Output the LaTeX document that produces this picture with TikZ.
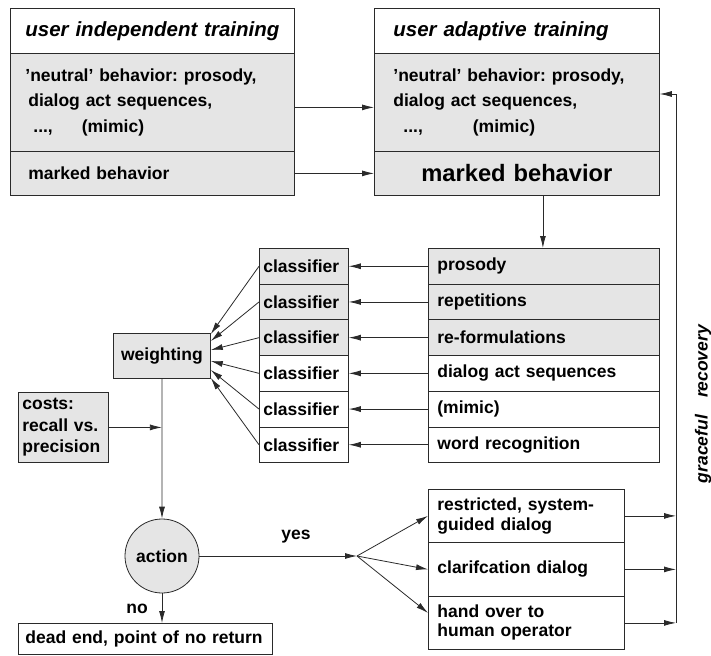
\documentclass[tikz,border=0pt]{standalone}
\usepackage{fontspec}
\setmainfont{Liberation Sans}
\usetikzlibrary{arrows.meta}
\definecolor{shade}{HTML}{E5E5E5}
\definecolor{linec}{HTML}{2A2A2A}
\frenchspacing
\begin{document}
\begin{tikzpicture}[x=1pt,y=-1pt,
  txt/.style={font=\fontsize{17.5}{25.5}\selectfont\bfseries},
  box/.style={draw=linec, line width=0.8pt, anchor=north west, inner ysep=0pt, align=left, txt},
  grey/.style={fill=shade},
  white/.style={fill=white},
  arr/.style={draw=linec, line width=0.8pt, -{Latex[length=12pt,width=6pt]}},
  ln/.style={draw=linec, line width=0.8pt}]
\useasboundingbox (0,0) rectangle (711,655);

% left box
\node[box, white, minimum width=284pt, minimum height=45pt, text width=254pt, inner xsep=15pt, align=center,
  font=\fontsize{20.5}{24}\selectfont\bfseries\itshape] (lt) at (10,8) {user independent training};
\node[box, grey, minimum width=284pt, minimum height=98pt, text width=254pt, inner xsep=15pt] (lneu) at (10,53)
  {'neutral' behavior: prosody,\\ \hspace*{3pt}dialog act sequences,\\ \hspace*{8pt}...,\hspace*{29pt}(mimic)};
\node[box, grey, minimum width=284pt, minimum height=44pt, text width=254pt, inner xsep=15pt] (lm) at (10,151)
  {\hspace*{3pt}marked behavior};

% right box
\node[box, white, minimum width=285pt, minimum height=45pt, text width=247pt, inner xsep=19pt,
  font=\fontsize{20.5}{24}\selectfont\bfseries\itshape] (rt) at (374,8) {user adaptive training};
\node[box, grey, minimum width=285pt, minimum height=98pt, text width=247pt, inner xsep=19pt] (rneu) at (374,53)
  {'neutral' behavior: prosody,\\ dialog act sequences,\\ \hspace*{10pt}...,\hspace*{50pt}(mimic)};
\node[box, grey, minimum width=285pt, minimum height=44pt, text width=247pt, inner xsep=19pt, align=center,
  font=\fontsize{23.7}{28}\selectfont\bfseries] (rm) at (374,151) {marked behavior};

% features
\node[box, grey,  minimum width=231pt, minimum height=35.7pt, text width=213pt, inner xsep=9pt] (f1) at (428,248.0) {prosody};
\node[box, grey,  minimum width=231pt, minimum height=35.7pt, text width=213pt, inner xsep=9pt] (f2) at (428,283.7) {repetitions};
\node[box, grey,  minimum width=231pt, minimum height=35.7pt, text width=213pt, inner xsep=9pt] (f3) at (428,319.4) {re-formulations};
\node[box, white, minimum width=231pt, minimum height=35.7pt, text width=213pt, inner xsep=9pt] (f4) at (428,355.1) {dialog act sequences};
\node[box, white, minimum width=231pt, minimum height=35.7pt, text width=213pt, inner xsep=9pt] (f5) at (428,390.8) {(mimic)};
\node[box, white, minimum width=231pt, minimum height=35.7pt, text width=213pt, inner xsep=9pt] (f6) at (428,426.5) {word recognition};

% classifiers
\node[box, grey,  minimum width=89pt, minimum height=35.7pt, text width=81pt, inner xsep=4pt] (c1) at (259,248.0) {classifier};
\node[box, grey,  minimum width=89pt, minimum height=35.7pt, text width=81pt, inner xsep=4pt] (c2) at (259,283.7) {classifier};
\node[box, grey,  minimum width=89pt, minimum height=35.7pt, text width=81pt, inner xsep=4pt] (c3) at (259,319.4) {classifier};
\node[box, white, minimum width=89pt, minimum height=35.7pt, text width=81pt, inner xsep=4pt] (c4) at (259,355.1) {classifier};
\node[box, white, minimum width=89pt, minimum height=35.7pt, text width=81pt, inner xsep=4pt] (c5) at (259,390.8) {classifier};
\node[box, white, minimum width=89pt, minimum height=35.7pt, text width=81pt, inner xsep=4pt] (c6) at (259,426.5) {classifier};

% weighting, costs
\node[box, grey, minimum width=97pt, minimum height=45pt, text width=89pt, inner xsep=4pt, align=center] (w) at (113,333) {weighting};
\node[box, grey, minimum width=90pt, minimum height=70pt, text width=82pt, inner xsep=4pt,
  font=\fontsize{17.5}{21.5}\selectfont\bfseries] (cost) at (18,392) {costs:\\recall vs.\\precision};

% action
\node[draw=linec, line width=0.8pt, fill=shade, circle, minimum size=74pt, inner sep=0pt, txt] (act) at (162,556) {action};

% dead end
\node[box, white, minimum width=254pt, minimum height=31pt, text width=240pt, inner xsep=7pt] (dead) at (18,623) {dead end, point of no return};

% options
\node[box, white, minimum width=196pt, minimum height=53pt, text width=178pt, inner xsep=9pt,
  font=\fontsize{17.5}{20}\selectfont\bfseries] (o1) at (428,489) {restricted, system-\\guided dialog};
\node[box, white, minimum width=196pt, minimum height=54pt, text width=178pt, inner xsep=9pt] (o2) at (428,542) {clarifcation dialog};
\node[box, white, minimum width=196pt, minimum height=53pt, text width=178pt, inner xsep=9pt,
  font=\fontsize{17.5}{19}\selectfont\bfseries] (o3) at (428,596) {hand over to\\human operator};

% labels
\node[txt, inner sep=0pt] (yes) at (296,537) {yes};
\node[txt, inner sep=0pt] (no) at (137,609) {no};
\node[rotate=90, inner sep=0pt, font=\fontsize{17.5}{20}\selectfont\bfseries\itshape] (gr) at (703,404) {graceful\hspace{17pt}recovery};

% coordinates
\coordinate (fbtop) at (676,94);
\coordinate (fbbot) at (676,622.5);
\coordinate (fan) at (357,556);

% connectors top
\draw[arr] ([yshift=-5pt]lneu.east) -- ([yshift=-5pt]rneu.west);
\draw[arr] (lm.east) -- (rm.west);
\draw[arr] ([xshift=26pt]rm.south) -- ([xshift=26pt]rm.south |- f1.north);
\draw[arr] (fbbot) -- (fbtop) -- (fbtop -| rneu.east);

% features to classifiers
\foreach \i in {1,...,6} { \draw[arr] (f\i.west) -- (c\i.east); }

% classifiers to weighting
\draw[arr] (c1.west) -- ([yshift=-1pt]w.north east);
\draw[arr] (c2.west) -- ([yshift=-8pt]w.north east);
\draw[arr] (c3.west) -- ([yshift=-17pt]w.north east);
\draw[arr] (c4.west) -- ([yshift=-28pt]w.north east);
\draw[arr] (c5.west) -- ([yshift=-37pt]w.north east);
\draw[arr] (c6.west) -- ([yshift=-45pt]w.north east);

% weighting / costs to action
\draw[arr] (w.south) -- (act.north);
\draw[arr] (cost.east) -- (cost.east -| w.south);

% action branches
\draw[arr] (act.east) -- (fan);
\draw[arr] (fan) -- (o1.west);
\draw[arr] (fan) -- (o2.west);
\draw[arr] (fan) -- ([yshift=10pt]o3.west);
\draw[arr] (act.south) -- (act.south |- dead.north);

% options to feedback
\draw[arr] (o1.east) -- (o1.east -| fbtop);
\draw[arr] (o2.east) -- (o2.east -| fbtop);
\draw[arr] (o3.east) -- (o3.east -| fbtop);
\end{tikzpicture}
\end{document}
